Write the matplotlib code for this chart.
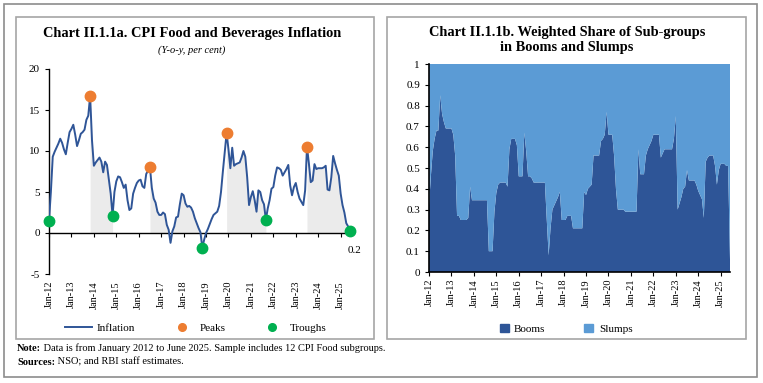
"""
Chart II.1.1a / II.1.1b - CPI food inflation cycles and weighted share of sub-groups
"""
import matplotlib
matplotlib.use("Agg")
import matplotlib.pyplot as plt
from matplotlib.patches import Rectangle, Patch
from matplotlib.lines import Line2D
import numpy as np

plt.rcParams['font.family'] = ['Liberation Serif', 'DejaVu Serif']
plt.rcParams['axes.unicode_minus'] = False

# monthly data, Jan 2012 .. Jun 2025
inflation = [
    1.5, 5.0, 9.3, 9.9, 10.4, 10.9, 11.5, 11.0, 10.2, 9.6, 11.0, 12.3,      # 2012
    12.7, 13.2, 12.0, 10.6, 11.3, 12.1, 12.3, 12.6, 13.8, 14.3, 16.7, 11.3,  # 2013
    8.2, 8.6, 8.9, 9.2, 8.7, 7.4, 8.7, 8.3, 6.5, 4.8, 2.1, 5.0,              # 2014
    6.3, 6.9, 6.8, 6.2, 5.5, 5.9, 4.0, 2.8, 3.0, 4.8, 5.5, 6.1,              # 2015
    6.4, 6.5, 5.7, 5.5, 7.2, 7.6, 8.0, 5.5, 4.2, 3.7, 2.6, 2.2,              # 2016
    2.2, 2.5, 2.3, 1.0, 0.4, -1.2, 0.2, 0.8, 1.9, 2.0, 3.5, 4.8,             # 2017
    4.6, 3.6, 3.2, 3.3, 3.1, 2.6, 1.8, 1.2, 0.6, 0.1, -1.8, -0.8,            # 2018
    0.0, 0.5, 1.1, 1.7, 2.2, 2.4, 2.6, 3.3, 5.0, 7.5, 9.8, 12.2,             # 2019
    10.2, 7.9, 10.4, 8.2, 8.4, 8.5, 8.6, 9.2, 10.0, 9.3, 6.8, 3.4,           # 2020
    4.4, 5.1, 4.0, 2.6, 5.2, 5.0, 4.0, 3.5, 1.6, 3.0, 4.0, 5.4,              # 2021
    5.6, 7.0, 8.0, 7.9, 7.7, 7.0, 7.4, 7.8, 8.3, 5.8, 4.6, 5.6,              # 2022
    6.1, 5.0, 4.2, 3.8, 3.4, 5.2, 10.5, 8.5, 6.2, 6.4, 8.4, 7.8,             # 2023
    7.9, 7.9, 7.9, 8.0, 8.2, 5.3, 5.2, 6.8, 9.4, 8.5, 7.7, 7.0,              # 2024
    4.8, 3.4, 2.5, 1.2, 0.8, 0.2,                                            # 2025
]

booms = [
    0.32, 0.46, 0.58, 0.64, 0.68, 0.68, 0.85, 0.76, 0.72, 0.69, 0.69, 0.69,
    0.69, 0.66, 0.56, 0.27, 0.27, 0.25, 0.25, 0.25, 0.25, 0.26, 0.41, 0.345,
    0.345, 0.345, 0.345, 0.345, 0.345, 0.345, 0.345, 0.345, 0.10, 0.10, 0.10, 0.29,
    0.38, 0.42, 0.43, 0.43, 0.43, 0.43, 0.41, 0.59, 0.64, 0.64, 0.64, 0.61,
    0.46, 0.46, 0.46, 0.67, 0.58, 0.46, 0.46, 0.45, 0.43, 0.43, 0.43, 0.43,
    0.43, 0.43, 0.43, 0.25, 0.08, 0.21, 0.30, 0.32, 0.34, 0.36, 0.385, 0.25,
    0.25, 0.25, 0.27, 0.27, 0.27, 0.21, 0.21, 0.21, 0.21, 0.21, 0.21, 0.385,
    0.37, 0.40, 0.41, 0.42, 0.56, 0.56, 0.56, 0.56, 0.63, 0.64, 0.66, 0.77,
    0.66, 0.66, 0.66, 0.56, 0.40, 0.30, 0.30, 0.30, 0.30, 0.29, 0.29, 0.29,
    0.29, 0.29, 0.29, 0.29, 0.59, 0.47, 0.47, 0.47, 0.56, 0.59, 0.61, 0.63,
    0.66, 0.66, 0.66, 0.66, 0.55, 0.57, 0.59, 0.59, 0.59, 0.59, 0.59, 0.64,
    0.75, 0.30, 0.33, 0.36, 0.40, 0.41, 0.49, 0.44, 0.44, 0.44, 0.44, 0.42,
    0.39, 0.37, 0.35, 0.26, 0.53, 0.55, 0.56, 0.56, 0.56, 0.51, 0.42, 0.49,
    0.52, 0.52, 0.52, 0.51, 0.51, 0.06,
]

# turning points, as month index from Jan 2012
peaks = [22, 54, 95, 138]
troughs = [0, 34, 82, 116, 161]

tick_labels = ['Jan-%02d' % y for y in range(12, 26)]
tick_pos = [12 * i for i in range(len(tick_labels))]

LINE = '#2F5597'
DARK = '#2E5597'
LIGHT = '#5B9BD5'
ORANGE = '#ED7D31'
GREEN = '#00B050'
SHADE = '#EBEBEB'

x = np.arange(len(inflation))
infl = np.array(inflation)
boom = np.array(booms)
slump = 1 - boom

fig = plt.figure(figsize=(7.63, 3.83), dpi=100)

# frames
fig.patches.append(Rectangle((4 / 763, 1 - 377 / 383), 753 / 763, 373 / 383,
                             transform=fig.transFigure, fill=False,
                             edgecolor='#8c8c8c', lw=1.2))
fig.patches.append(Rectangle((16 / 763, 1 - 339 / 383), 358 / 763, 322 / 383,
                             transform=fig.transFigure, fill=False,
                             edgecolor='#a6a6a6', lw=1.2))
fig.patches.append(Rectangle((387 / 763, 1 - 339 / 383), 359 / 763, 322 / 383,
                             transform=fig.transFigure, fill=False,
                             edgecolor='#a6a6a6', lw=1.2))

# ---- left: inflation ----
ax1 = fig.add_axes([49 / 763, 109 / 383, 301 / 763, 205 / 383])
for p, t in zip(peaks, troughs[1:]):
    seg = slice(p, t + 1)
    ax1.fill_between(x[seg], 0, infl[seg], color=SHADE, lw=0, zorder=1)
ax1.plot(x, infl, color=LINE, lw=1.4, zorder=3)
ax1.plot(x[peaks], infl[peaks], 'o', color=ORANGE, ms=7.5, zorder=4, clip_on=False)
ax1.plot(x[troughs], infl[troughs], 'o', color=GREEN, ms=7.5, zorder=4, clip_on=False)
ax1.annotate('%.1f' % infl[-1], xy=(x[-1], infl[-1]), xytext=(5, -19),
             textcoords='offset pixels', ha='center', va='center', fontsize=8)

ax1.set_xlim(0, x[-1])
ax1.set_ylim(-5, 20)
ax1.set_yticks([-5, 0, 5, 10, 15, 20])
ax1.tick_params(axis='y', labelsize=8, length=3, width=0.8)
for s in ['top', 'right']:
    ax1.spines[s].set_visible(False)
ax1.spines['bottom'].set_position(('data', 0))
ax1.spines['bottom'].set_linewidth(1.0)
ax1.spines['left'].set_linewidth(1.0)
ax1.set_xticks(tick_pos)
ax1.tick_params(axis='x', labelbottom=False, length=3, width=0.8)
sec1 = ax1.secondary_xaxis(0)
sec1.set_xticks(tick_pos, labels=tick_labels, rotation=90)
sec1.tick_params(length=0, pad=5, labelsize=7.5)
sec1.spines['bottom'].set_visible(False)

fig.text(192 / 763, 1 - 33 / 383, 'Chart II.1.1a. CPI Food and Beverages Inflation',
         ha='center', va='center', fontsize=10.4, fontweight='bold')
fig.text(192 / 763, 1 - 50 / 383, '(Y-o-y, per cent)', ha='center', va='center',
         fontsize=7.5, style='italic')

h1 = [Line2D([], [], color=LINE, lw=1.4),
      Line2D([], [], ls='none', marker='o', color=ORANGE, ms=5.5),
      Line2D([], [], ls='none', marker='o', color=GREEN, ms=5.5)]
fig.legend(h1, ['Inflation', 'Peaks', 'Troughs'], loc='center',
           bbox_to_anchor=(196 / 763, 1 - 328 / 383), ncol=3, frameon=False,
           fontsize=8, handlelength=2.4, handletextpad=0.4, columnspacing=3.0)

# ---- right: booms / slumps ----
ax2 = fig.add_axes([429 / 763, 111 / 383, 301 / 763, 208 / 383])
ax2.stackplot(x, boom, slump, colors=[DARK, LIGHT], lw=0)
ax2.set_xlim(0, x[-1])
ax2.set_ylim(0, 1)
yt = np.round(np.arange(0, 1.01, 0.1), 1)
ax2.set_yticks(yt, labels=['%g' % v for v in yt])
ax2.set_xticks(tick_pos, labels=tick_labels, rotation=90)
ax2.tick_params(axis='y', labelsize=8, length=3, width=0.8)
ax2.tick_params(axis='x', labelsize=7.5, length=3, width=0.8, pad=2)
for s in ['top', 'right']:
    ax2.spines[s].set_visible(False)
ax2.spines['left'].set_linewidth(1.2)
ax2.spines['bottom'].set_linewidth(1.2)

fig.text(567 / 763, 1 - 40 / 383,
         'Chart II.1.1b. Weighted Share of Sub-groups\nin Booms and Slumps',
         ha='center', va='center', fontsize=10.4, fontweight='bold', linespacing=1.15)

h2 = [Patch(color=DARK), Patch(color=LIGHT)]
fig.legend(h2, ['Booms', 'Slumps'], loc='center',
           bbox_to_anchor=(566 / 763, 1 - 329 / 383), ncol=2, frameon=False,
           fontsize=8, handlelength=0.8, handleheight=0.8, handletextpad=0.5,
           columnspacing=3.5)

# ---- notes ----
n1 = fig.text(17 / 763, 1 - 351 / 383, 'Note:', fontsize=7.5, fontweight='bold',
              va='baseline')
ax1.annotate(' Data is from January 2012 to June 2025. Sample includes 12 CPI Food subgroups.',
             xy=(1, 0), xycoords=n1, va='bottom', fontsize=7.5, annotation_clip=False)
n2 = fig.text(17 / 763, 1 - 365 / 383, 'Sources:', fontsize=7.5, fontweight='bold',
              va='baseline')
ax1.annotate(' NSO; and RBI staff estimates.', xy=(1, 0), xycoords=n2,
             va='bottom', fontsize=7.5, annotation_clip=False)

fig.savefig('out.png', dpi=100)
